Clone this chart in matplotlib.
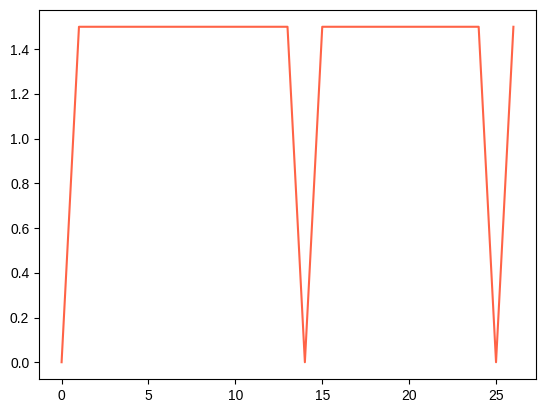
import matplotlib
matplotlib.use('Agg')
from matplotlib import pyplot as plt

plt.rcParams['font.family'] = ['Liberation Sans', 'DejaVu Sans']

steps = list(range(27))
values = [0.0] + [1.5] * 13 + [0.0] + [1.5] * 10 + [0.0, 1.5]

fig = plt.figure(figsize=(5.44, 4.13), dpi=100)
ax = fig.add_axes([39 / 544, 34 / 413, 497 / 544, 369 / 413])
ax.plot(steps, values, color='#FF6347')
fig.savefig('out.png', dpi=100)
